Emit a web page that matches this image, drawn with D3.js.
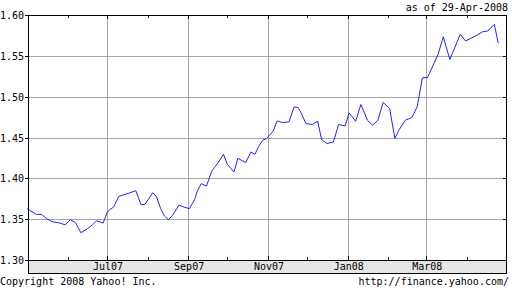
<!DOCTYPE html>
<html><head><meta charset="utf-8">
<script src="https://cdn.jsdelivr.net/npm/d3@7"></script>
<style>html,body{margin:0;padding:0;background:#fff;}svg{display:block;}</style>
</head><body>
<script>
const dates = ["2007-05-01","2007-05-03","2007-05-08","2007-05-12","2007-05-16","2007-05-20","2007-05-25","2007-05-30","2007-06-03","2007-06-07","2007-06-11","2007-06-16","2007-06-20","2007-06-23","2007-06-26","2007-06-28","2007-07-01","2007-07-03","2007-07-06","2007-07-10","2007-07-14","2007-07-18","2007-07-23","2007-07-27","2007-07-30","2007-08-05","2007-08-08","2007-08-11","2007-08-14","2007-08-17","2007-08-20","2007-08-25","2007-08-29","2007-09-02","2007-09-06","2007-09-08","2007-09-11","2007-09-15","2007-09-19","2007-09-21","2007-09-24","2007-09-28","2007-10-01","2007-10-06","2007-10-09","2007-10-15","2007-10-19","2007-10-22","2007-10-25","2007-10-28","2007-10-31","2007-11-05","2007-11-08","2007-11-12","2007-11-17","2007-11-21","2007-11-24","2007-11-26","2007-11-30","2007-12-05","2007-12-09","2007-12-12","2007-12-16","2007-12-21","2007-12-25","2007-12-30","2008-01-02","2008-01-07","2008-01-11","2008-01-16","2008-01-20","2008-01-24","2008-01-28","2008-02-02","2008-02-06","2008-02-09","2008-02-14","2008-02-19","2008-02-23","2008-02-27","2008-03-02","2008-03-10","2008-03-14","2008-03-19","2008-03-27","2008-03-31","2008-04-08","2008-04-13","2008-04-17","2008-04-22","2008-04-25"];
const values = [1.3628,1.3607,1.3558,1.3558,1.3505,1.3469,1.3456,1.3432,1.3493,1.3456,1.3334,1.3383,1.3432,1.3481,1.3464,1.3452,1.3579,1.3616,1.3648,1.3779,1.3800,1.3820,1.3849,1.3677,1.3681,1.3824,1.3770,1.3628,1.3537,1.3493,1.3546,1.3672,1.3648,1.3628,1.3742,1.3844,1.3935,1.3906,1.4086,1.4131,1.4193,1.4294,1.4172,1.4077,1.4245,1.4193,1.4323,1.4294,1.4393,1.4466,1.4487,1.4580,1.4703,1.4683,1.4691,1.4875,1.4867,1.4813,1.4671,1.4659,1.4699,1.4475,1.4426,1.4445,1.4659,1.4642,1.4801,1.4699,1.4904,1.4712,1.4650,1.4712,1.4929,1.4855,1.4487,1.4589,1.4712,1.4745,1.4875,1.5231,1.5236,1.5518,1.5734,1.5456,1.5763,1.5681,1.5746,1.5795,1.5804,1.5886,1.5653];
const yTicks = [1.30,1.35,1.40,1.45,1.50,1.55,1.60];
const majorMonths = ["2007-07-01","2007-09-01","2007-11-01","2008-01-01","2008-03-01"];
const minorMonths = ["2007-06-01","2007-08-01","2007-10-01","2007-12-01","2008-02-01","2008-04-01"];
const monthLabels = ["Jul07","Sep07","Nov07","Jan08","Mar08"];
const asOfText = "as of 29-Apr-2008";
const copyrightText = "Copyright 2008 Yahoo! Inc.";
const urlText = "http://finance.yahoo.com/";

const W = 512, H = 288;
const L = 28, R = 506, T = 15, B = 260, BandB = 273;
const parse = d3.utcParse("%Y-%m-%d");
const data = dates.map((d,i)=>({date: parse(d), value: values[i]}));

const x = d3.scaleUtc().domain([parse("2007-05-01"), parse("2008-04-30")]).range([27.2, 504.8]);
const y = d3.scaleLinear().domain([1.30, 1.60]).range([B, T]);

const svg = d3.select("body").append("svg").attr("width", W).attr("height", H);
const font = "'DejaVu Sans Mono', 'Liberation Mono', monospace";
const px = v => Math.round(v) + 0.5;

// label band
svg.append("rect").attr("x", L).attr("y", B).attr("width", R - L).attr("height", BandB - B).attr("fill", "#e5e5e5");

// gridlines
const grid = svg.append("g").attr("stroke", "#a6a6a6").attr("stroke-width", 1);
yTicks.filter(v => v > 1.30 && v < 1.60).forEach(v => {
  grid.append("line").attr("x1", L).attr("x2", R).attr("y1", px(y(v))).attr("y2", px(y(v)));
});
majorMonths.forEach(d => {
  const xx = px(x(parse(d)));
  grid.append("line").attr("x1", xx).attr("x2", xx).attr("y1", T).attr("y2", B);
});

// ticks
const tk = svg.append("g").attr("stroke", "#000").attr("stroke-width", 1);
majorMonths.forEach(d => {
  const xx = px(x(parse(d)));
  tk.append("line").attr("x1", xx).attr("x2", xx).attr("y1", T).attr("y2", T + 4);
  tk.append("line").attr("x1", xx).attr("x2", xx).attr("y1", B - 4).attr("y2", B);
});
minorMonths.forEach(d => {
  const xx = px(x(parse(d)));
  tk.append("line").attr("x1", xx).attr("x2", xx).attr("y1", T).attr("y2", T + 3);
  tk.append("line").attr("x1", xx).attr("x2", xx).attr("y1", B - 3).attr("y2", B);
});
yTicks.forEach(v => {
  const yy = px(y(v));
  tk.append("line").attr("x1", L - 3).attr("x2", L).attr("y1", yy).attr("y2", yy);
  tk.append("line").attr("x1", R - 3).attr("x2", R).attr("y1", yy).attr("y2", yy);
});

// price line
const line = d3.line().x(d => x(d.date)).y(d => y(d.value));
svg.append("path").datum(data).attr("d", line).attr("fill", "none").attr("stroke", "#2222ff").attr("stroke-width", 1);

// frame
const fr = svg.append("g").attr("stroke", "#000").attr("stroke-width", 1).attr("fill", "none");
fr.append("line").attr("x1", L).attr("x2", R + 0.5).attr("y1", T + 0.5).attr("y2", T + 0.5);
fr.append("line").attr("x1", L + 0.5).attr("x2", L + 0.5).attr("y1", T).attr("y2", BandB);
fr.append("line").attr("x1", R + 0.5).attr("x2", R + 0.5).attr("y1", T).attr("y2", BandB);
fr.append("line").attr("x1", L).attr("x2", R + 1).attr("y1", B + 0.5).attr("y2", B + 0.5);
fr.append("line").attr("x1", L).attr("x2", R + 1).attr("y1", BandB + 0.5).attr("y2", BandB + 0.5);

// y labels
svg.append("g").selectAll("text").data(yTicks).join("text")
  .attr("x", 24).attr("y", v => y(v) + 4)
  .attr("text-anchor", "end").attr("font-family", font).attr("font-size", 10).attr("fill", "#000")
  .text(v => v.toFixed(2));

// month labels
svg.append("g").selectAll("text").data(majorMonths).join("text")
  .attr("x", d => x(parse(d)) + 1).attr("y", 270)
  .attr("text-anchor", "middle").attr("font-family", font).attr("font-size", 10).attr("fill", "#000")
  .text((d, i) => monthLabels[i]);

svg.append("text").attr("x", 508).attr("y", 11).attr("text-anchor", "end")
  .attr("font-family", font).attr("font-size", 10).text(asOfText);
svg.append("text").attr("x", 0).attr("y", 285)
  .attr("font-family", font).attr("font-size", 10).text(copyrightText);
svg.append("text").attr("x", 509).attr("y", 285).attr("text-anchor", "end")
  .attr("font-family", font).attr("font-size", 10).text(urlText);
</script>
</body></html>
